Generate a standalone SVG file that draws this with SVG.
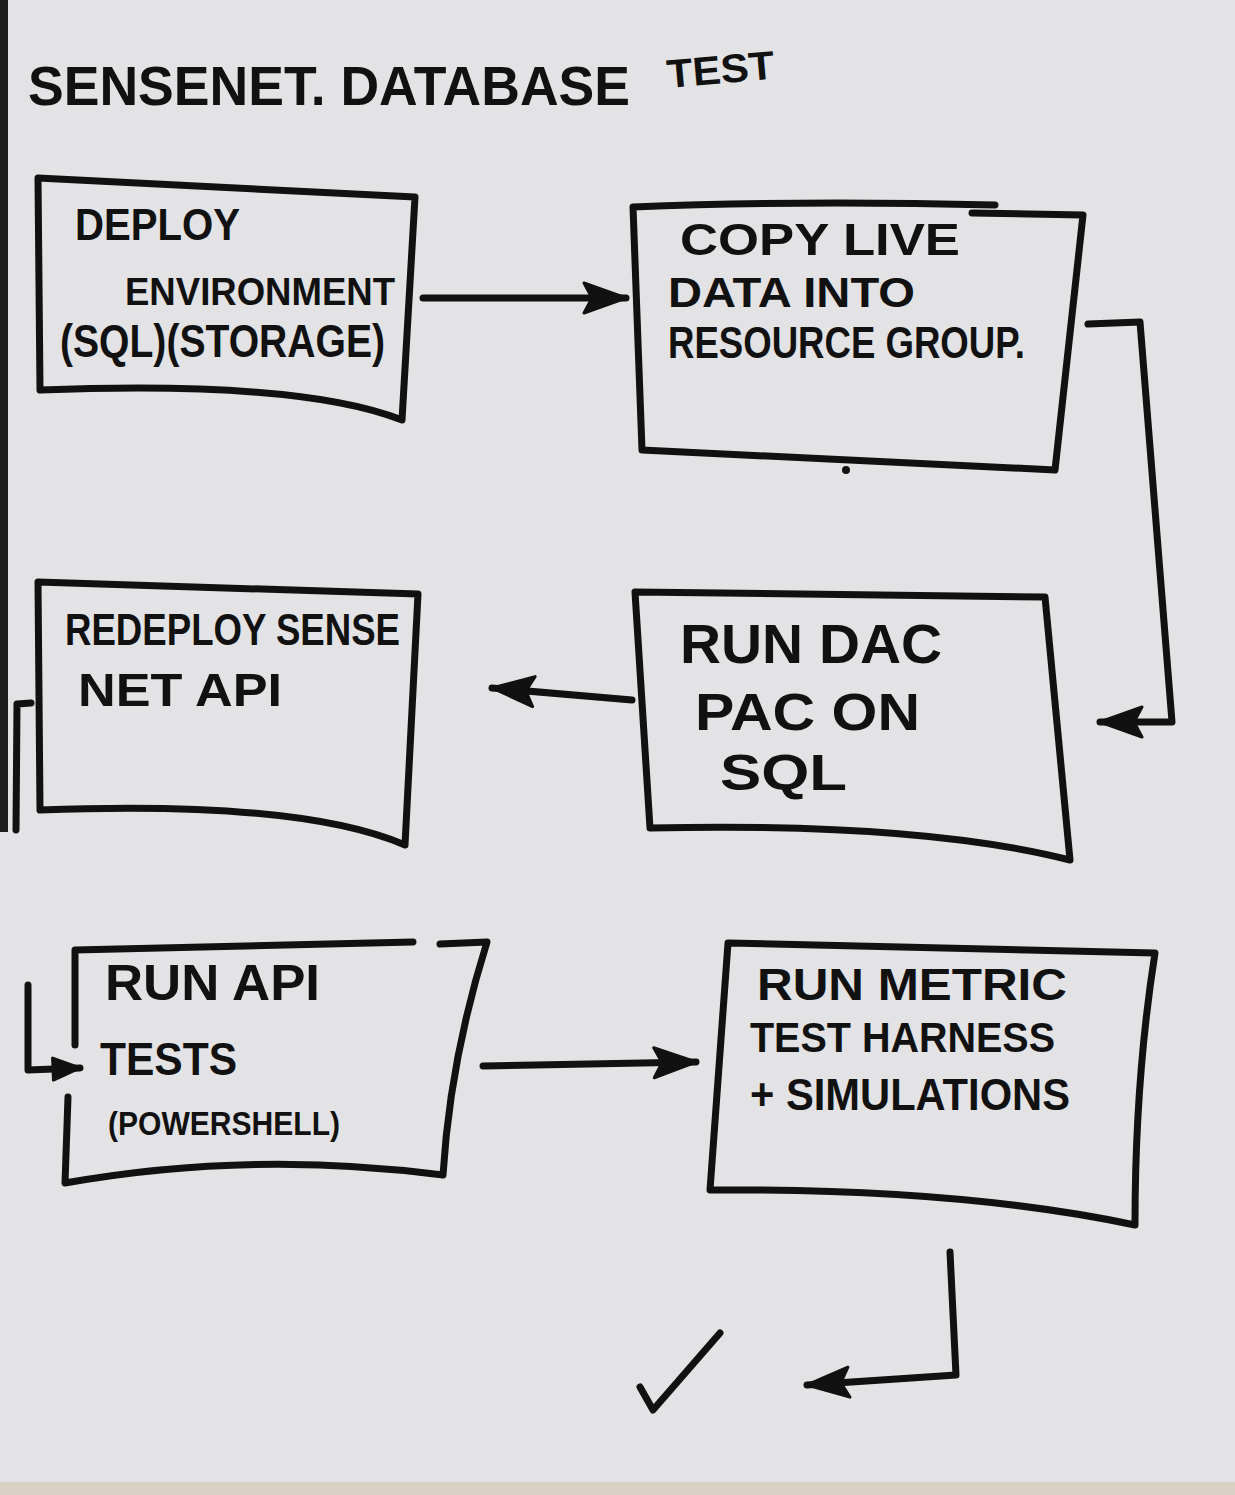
<svg xmlns="http://www.w3.org/2000/svg" width="1235" height="1495" viewBox="0 0 1235 1495">
<style>
.box{fill:none;stroke:#111;stroke-width:7;stroke-linejoin:round;stroke-linecap:round}
.con{fill:none;stroke:#111;stroke-width:7;stroke-linejoin:round;stroke-linecap:round}
.t{font-family:"Liberation Sans","DejaVu Sans",Arial,sans-serif;font-weight:bold;fill:#111}
</style>
<defs>
<marker id="ah" markerUnits="userSpaceOnUse" markerWidth="46" markerHeight="36" refX="44" refY="18" orient="auto" viewBox="0 0 46 36">
<path d="M2,3 L44,18 L2,33 L10,18 z" fill="#111" stroke="#111" stroke-width="3" stroke-linejoin="round"/>
</marker>
<marker id="ahs" markerUnits="userSpaceOnUse" markerWidth="32" markerHeight="28" refX="30" refY="14" orient="auto" viewBox="0 0 32 28">
<path d="M3,3 L30,14 L3,25 z" fill="#111" stroke="#111" stroke-width="3" stroke-linejoin="round"/>
</marker>
</defs>
<rect x="0" y="0" width="1235" height="1495" fill="#e3e3e5"/>
<rect x="0" y="0" width="8" height="832" fill="#1e1e1e"/>
<rect x="0" y="1482" width="1235" height="13" fill="#d9d2c4"/>

<g id="title">
<text class="t" x="28" y="105" font-size="56" textLength="602" lengthAdjust="spacingAndGlyphs">SENSENET. DATABASE</text>
<text class="t" x="668" y="88" font-size="40" textLength="108" lengthAdjust="spacingAndGlyphs" transform="rotate(-5 668 88)">TEST</text>
</g>

<g id="connectors">
<path class="con" d="M423,298 L626,298" marker-end="url(#ah)"/>
<path class="con" d="M1088,324 L1140,322 L1172,722 L1100,722" marker-end="url(#ah)"/>
<path class="con" d="M632,700 L492,688" marker-end="url(#ah)"/>
<path class="con" d="M31,703 L17,704 L16,830"/>
<path class="con" d="M28,985 L28,1070 L80,1068" marker-end="url(#ahs)"/>
<path class="con" d="M483,1066 L696,1062" marker-end="url(#ah)"/>
<path class="con" d="M950,1252 L956,1375 L807,1385" marker-end="url(#ah)"/>
</g>

<g id="deploy-environment">
<path class="box" d="M38,178 L415,197 L402,420 Q300,380 40,390 Z"/>
<text class="t" x="75" y="240" font-size="44" textLength="165" lengthAdjust="spacingAndGlyphs">DEPLOY</text>
<text class="t" x="125" y="305" font-size="38" textLength="270" lengthAdjust="spacingAndGlyphs">ENVIRONMENT</text>
<text class="t" x="60" y="357" font-size="46" textLength="325" lengthAdjust="spacingAndGlyphs">(SQL)(STORAGE)</text>
</g>

<g id="copy-live-data">
<path class="box" d="M633,207 Q800,200 995,205 M972,213 L1083,215 L1055,470 L642,450 L633,207"/>
<text class="t" x="680" y="255" font-size="44" textLength="280" lengthAdjust="spacingAndGlyphs">COPY LIVE</text>
<text class="t" x="668" y="307" font-size="42" textLength="247" lengthAdjust="spacingAndGlyphs">DATA INTO</text>
<text class="t" x="668" y="358" font-size="44" textLength="357" lengthAdjust="spacingAndGlyphs">RESOURCE GROUP.</text>
<circle cx="846" cy="470" r="4" fill="#111"/>
</g>

<g id="redeploy-sensenet-api">
<path class="box" d="M38,582 L418,594 L405,845 Q300,800 40,810 Z"/>
<text class="t" x="65" y="645" font-size="44" textLength="335" lengthAdjust="spacingAndGlyphs">REDEPLOY SENSE</text>
<text class="t" x="78" y="706" font-size="46" textLength="204" lengthAdjust="spacingAndGlyphs">NET API</text>
</g>

<g id="run-dacpac">
<path class="box" d="M635,592 L1045,597 L1070,860 Q920,822 650,828 Z"/>
<text class="t" x="680" y="663" font-size="56" textLength="262" lengthAdjust="spacingAndGlyphs">RUN DAC</text>
<text class="t" x="695" y="730" font-size="52" textLength="225" lengthAdjust="spacingAndGlyphs">PAC ON</text>
<text class="t" x="720" y="790" font-size="50" textLength="127" lengthAdjust="spacingAndGlyphs">SQL</text>
</g>

<g id="run-api-tests">
<path class="box" d="M75,1045 L75,950 L413,942 M440,944 L487,942 Q450,1060 443,1175 Q250,1150 65,1183 L68,1097"/>
<text class="t" x="105" y="1000" font-size="50" textLength="215" lengthAdjust="spacingAndGlyphs">RUN API</text>
<text class="t" x="100" y="1075" font-size="46" textLength="137" lengthAdjust="spacingAndGlyphs">TESTS</text>
<text class="t" x="108" y="1135" font-size="34" textLength="232" lengthAdjust="spacingAndGlyphs">(POWERSHELL)</text>
</g>

<g id="run-metric-test-harness">
<path class="box" d="M728,943 L1155,953 Q1135,1080 1135,1225 Q960,1188 710,1190 Z"/>
<text class="t" x="757" y="1000" font-size="44" textLength="310" lengthAdjust="spacingAndGlyphs">RUN METRIC</text>
<text class="t" x="750" y="1052" font-size="42" textLength="305" lengthAdjust="spacingAndGlyphs">TEST HARNESS</text>
<text class="t" x="750" y="1110" font-size="44" textLength="320" lengthAdjust="spacingAndGlyphs">+ SIMULATIONS</text>
</g>

<g id="done">
<path class="con" d="M640,1387 L653,1410 L720,1333"/>
</g>
</svg>
